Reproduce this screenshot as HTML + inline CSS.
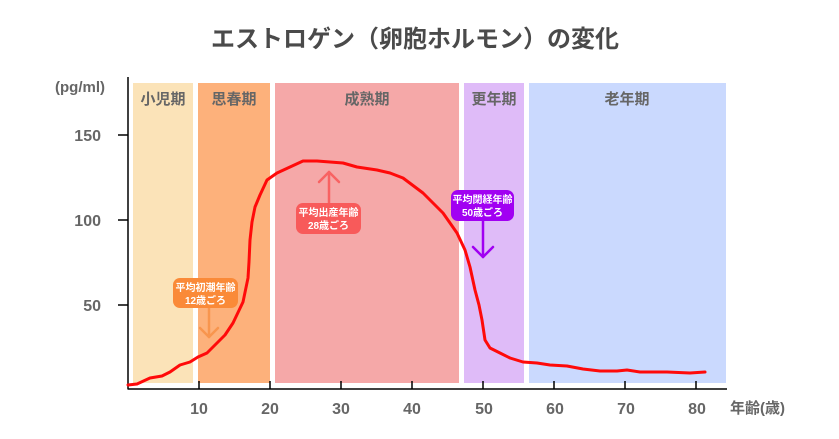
<!DOCTYPE html>
<html><head><meta charset="utf-8"><style>
html,body{margin:0;padding:0;background:#fff;}
svg{display:block;}
text{font-family:"Liberation Sans","Noto Sans CJK JP",sans-serif;font-weight:bold;}
</style></head><body>
<svg width="839" height="439" viewBox="0 0 839 439" xmlns="http://www.w3.org/2000/svg">
<text x="415" y="47" text-anchor="middle" font-size="24" fill="#4a4a4a" font-family="Noto Sans CJK JP, sans-serif">エストロゲン（卵胞ホルモン）の変化</text>
<!-- bands -->
<rect x="133" y="83" width="60" height="300" fill="#fbe3b8"/>
<rect x="198" y="83" width="72" height="300" fill="#fdb17b"/>
<rect x="275" y="83" width="184" height="300" fill="#f5a8a8"/>
<rect x="464" y="83" width="60" height="300" fill="#dfbbf8"/>
<rect x="529" y="83" width="197" height="300" fill="#cad9fe"/>
<g font-size="15" fill="#666" text-anchor="middle" font-family="Noto Sans CJK JP, sans-serif">
<text x="163" y="104">小児期</text>
<text x="234" y="104">思春期</text>
<text x="367" y="104">成熟期</text>
<text x="494" y="104">更年期</text>
<text x="627" y="104">老年期</text>
</g>
<!-- axes -->
<line x1="128" y1="77" x2="128" y2="389.5" stroke="#000" stroke-width="1.5"/>
<line x1="128" y1="389" x2="727" y2="389" stroke="#000" stroke-width="1.5"/>
<g stroke="#000" stroke-width="1.5">
<line x1="118" y1="135" x2="128" y2="135"/>
<line x1="118" y1="220" x2="128" y2="220"/>
<line x1="118" y1="305" x2="128" y2="305"/>
<line x1="199" y1="381" x2="199" y2="389"/>
<line x1="270" y1="381" x2="270" y2="389"/>
<line x1="341" y1="381" x2="341" y2="389"/>
<line x1="412" y1="381" x2="412" y2="389"/>
<line x1="483" y1="381" x2="483" y2="389"/>
<line x1="554" y1="381" x2="554" y2="389"/>
<line x1="625" y1="381" x2="625" y2="389"/>
<line x1="696" y1="381" x2="696" y2="389"/>
</g>
<g font-size="16" fill="#666">
<text x="101" y="141" text-anchor="end">150</text>
<text x="101" y="226" text-anchor="end">100</text>
<text x="101" y="311" text-anchor="end">50</text>
<text x="80" y="92" text-anchor="middle" font-size="15">(pg/ml)</text>
<g text-anchor="middle">
<text x="199" y="414">10</text>
<text x="270" y="414">20</text>
<text x="341" y="414">30</text>
<text x="412" y="414">40</text>
<text x="484" y="414">50</text>
<text x="555" y="414">60</text>
<text x="626" y="414">70</text>
<text x="697" y="414">80</text>
</g>
<text x="730" y="413" font-size="15" font-family="Noto Sans CJK JP, sans-serif">年齢(歳)</text>
</g>
<!-- curve -->
<polyline fill="none" stroke="#ff0a0a" stroke-width="3" stroke-linejoin="round" stroke-linecap="round" points="128,385 137,384 150,378 162,376 170,372 180,365 190,362 198,357 207,353 217,343 225,335 233,323 243,302 248,278 249,262 250,240 252,222 255,207 260,195 267,180 277,173 290,167 303,161 317,161 330,162 343,163 357,167 377,170 390,173 403,178 423,193 443,213 457,233 465,250 470,267 475,290 479,305 482,320 485,340 490,348 500,353 510,358 523,362 537,363 550,365 567,366 583,369 600,371 617,371 627,370 640,372 667,372 690,373 705,372"/>
<!-- orange annotation -->
<g stroke="#f8954e" stroke-width="2.5" fill="none" stroke-linecap="round" stroke-linejoin="round">
<line x1="209" y1="307" x2="209" y2="337"/>
<polyline points="200,328 209,337 218,328"/>
</g>
<rect x="173" y="278" width="65" height="30" rx="7" fill="#fa8a38"/>
<g font-size="10" fill="#fff" text-anchor="middle" font-family="Noto Sans CJK JP, sans-serif">
<text x="205.5" y="291">平均初潮年齢</text>
<text x="205.5" y="304">12歳ごろ</text>
</g>
<!-- red annotation -->
<g stroke="#f86262" stroke-width="2.5" fill="none" stroke-linecap="round" stroke-linejoin="round">
<line x1="329" y1="203" x2="329" y2="172"/>
<polyline points="319,182 329,172 339,182"/>
</g>
<rect x="296" y="203" width="65" height="31" rx="7" fill="#f85a5a"/>
<g font-size="10" fill="#fff" text-anchor="middle" font-family="Noto Sans CJK JP, sans-serif">
<text x="328.5" y="216">平均出産年齢</text>
<text x="328.5" y="229">28歳ごろ</text>
</g>
<!-- purple annotation -->
<g stroke="#a100f2" stroke-width="2.5" fill="none" stroke-linecap="round" stroke-linejoin="round">
<line x1="483" y1="221" x2="483" y2="257"/>
<polyline points="473,247 483,257 493,247"/>
</g>
<rect x="451" y="190" width="63" height="31" rx="7" fill="#a100f2"/>
<g font-size="10" fill="#fff" text-anchor="middle" font-family="Noto Sans CJK JP, sans-serif">
<text x="482.5" y="203">平均閉経年齢</text>
<text x="482.5" y="216">50歳ごろ</text>
</g>
</svg>
</body></html>
